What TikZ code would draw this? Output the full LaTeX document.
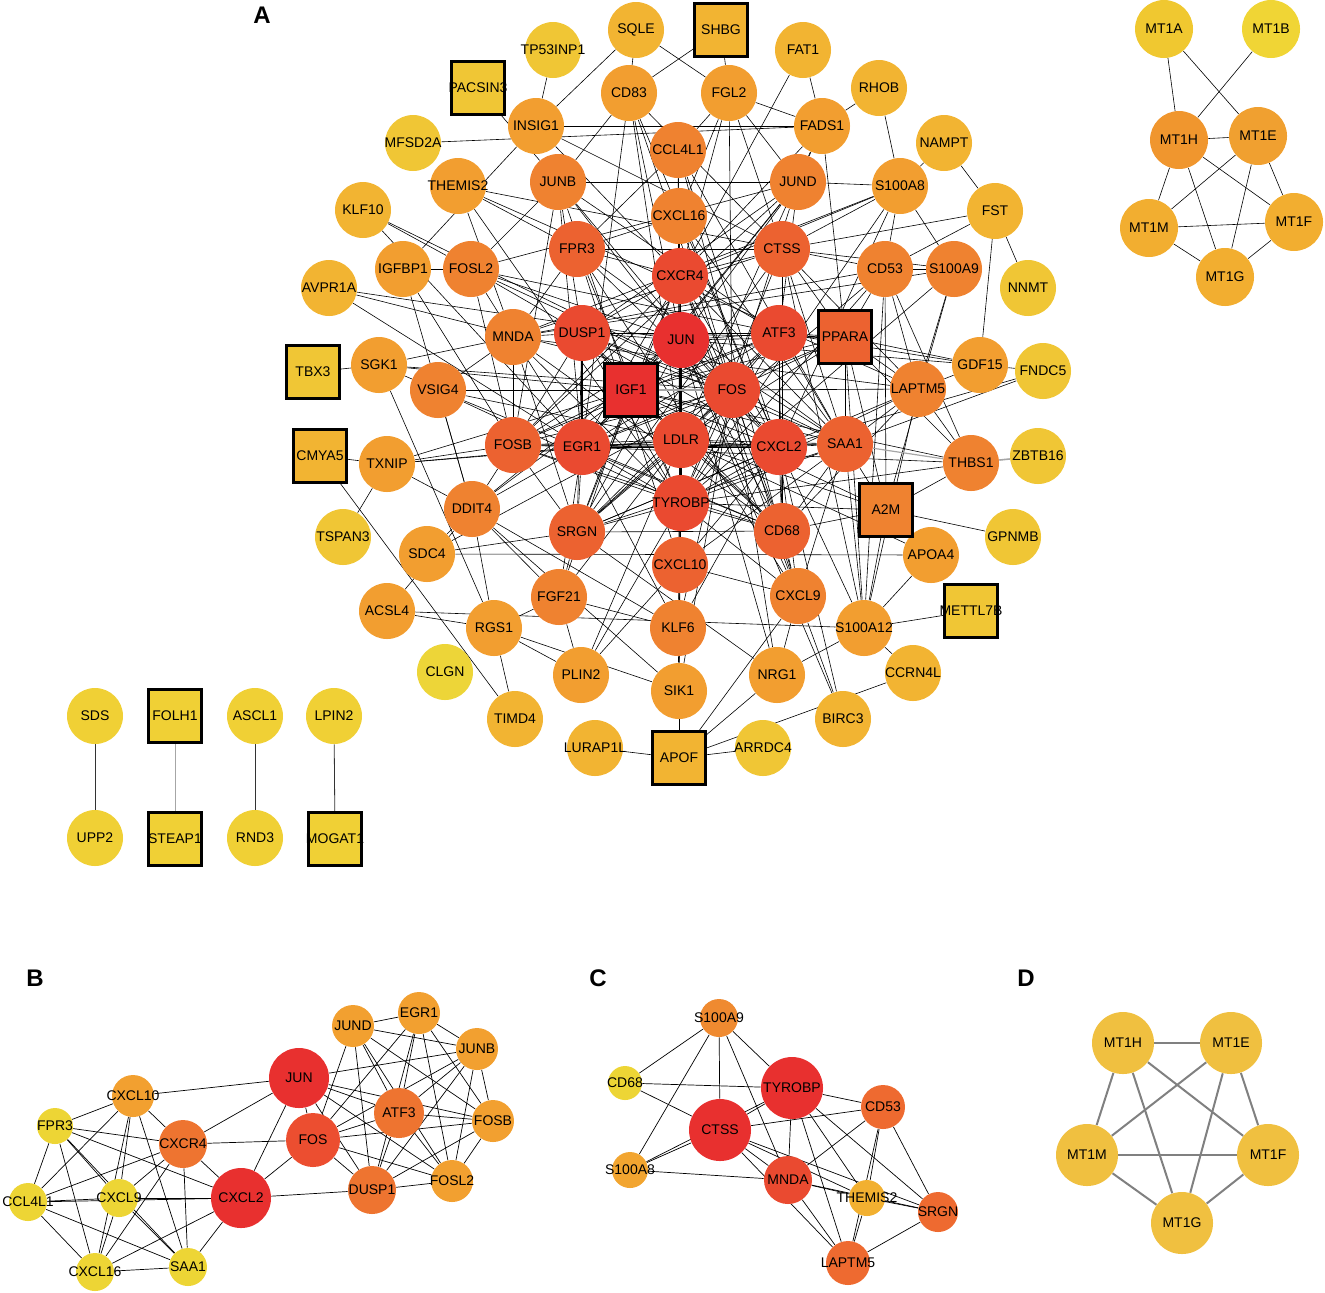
\documentclass[tikz,border=0pt]{standalone}
\usepackage{fontspec}
\setmainfont{Liberation Sans}
\usetikzlibrary{backgrounds}
\definecolor{c1}{HTML}{E8302F}
\definecolor{c2}{HTML}{EA4A30}
\definecolor{c3}{HTML}{EC6230}
\definecolor{c4}{HTML}{EF8230}
\definecolor{c5}{HTML}{F29E30}
\definecolor{c6}{HTML}{F2B432}
\definecolor{c7}{HTML}{F0C635}
\definecolor{c8}{HTML}{EDD538}
\definecolor{bFOS}{HTML}{EC4E30}
\definecolor{bOR}{HTML}{EE7430}
\definecolor{bLO}{HTML}{F2A030}
\definecolor{bYE}{HTML}{EDD535}
\definecolor{cOR}{HTML}{EE6A30}
\definecolor{cS9}{HTML}{EF8A30}
\definecolor{cS8}{HTML}{F2A530}
\definecolor{cTH}{HTML}{F2B030}
\definecolor{dMT}{HTML}{F0C040}
\definecolor{mA}{HTML}{F0C830}
\definecolor{mB}{HTML}{F0D535}
\definecolor{mH}{HTML}{F0962E}
\definecolor{mE}{HTML}{F0A030}
\definecolor{mM}{HTML}{F2AE30}
\definecolor{pY}{HTML}{F0D035}
\tikzset{
  lbl/.style={font=\fontsize{7}{8}\selectfont},
  nd/.style={lbl, circle, draw=none, minimum size=28pt, inner sep=0pt},
  sq/.style={lbl, rectangle, draw=black, line width=1.4pt, minimum size=26.2pt, inner sep=0pt},
  ea/.style={line width=0.3pt, black},
  eb/.style={line width=0.35pt, black},
  ed/.style={line width=1pt, gray},
  panel/.style={font=\bfseries\fontsize{12}{14}\selectfont}
}
\begin{document}
\begin{tikzpicture}[x=0.5pt,y=-0.5pt]
\useasboundingbox (0,0) rectangle (1325,1292);

% ---------- panel labels
\node[panel] (labA) at (262,15) {A};
\node[panel] (labB) at (35,978) {B};
\node[panel] (labC) at (598,978) {C};
\node[panel] (labD) at (1026,978) {D};

% ---------- panel A nodes
\foreach \n/\x/\y/\c in {SQLE/636/30/c6, TP53INP1/553/50/c7, FAT1/803/50/c6, CD83/629/93/c5, FGL2/729/93/c5,
  RHOB/879/88/c6, INSIG1/536/126/c5, FADS1/822/126/c5, MFSD2A/413/143/c7, NAMPT/944/143/c6,
  CCL4L1/678/150/c4, THEMIS2/458/186/c5, JUNB/558/182/c4, JUND/798/182/c4, S100A8/900/186/c5,
  KLF10/363/210/c6, CXCL16/679/216/c4, FST/995/211/c6, FPR3/577/249/c3, CTSS/782/249/c3,
  IGFBP1/403/269/c5, FOSL2/471/269/c4, CXCR4/680/276/c2, CD53/885/269/c4, S100A9/954/269/c4,
  AVPR1A/329/288/c6, NNMT/1028/288/c7, MNDA/513/337/c4, DUSP1/582/333/c2, JUN/681/340/c1,
  ATF3/779/333/c2, SGK1/379/365/c5, VSIG4/438/390/c4, FOS/732/390/c2, LAPTM5/918/389/c4,
  GDF15/980/365/c5, FNDC5/1043/371/c7, TXNIP/387/464/c5, FOSB/513/445/c3, EGR1/582/447/c2,
  LDLR/681/440/c2, CXCL2/779/447/c2, SAA1/845/444/c3, THBS1/971/463/c4, ZBTB16/1038/456/c7,
  DDIT4/472/509/c4, TYROBP/681/503/c2, TSPAN3/343/537/c7, SRGN/577/532/c3, CD68/782/531/c3,
  GPNMB/1013/537/c7, SDC4/427/554/c5, CXCL10/680/565/c3, APOA4/931/555/c5, ACSL4/387/611/c5,
  FGF21/559/597/c4, CXCL9/798/596/c4, RGS1/494/628/c5, KLF6/678/628/c4, S100A12/864/628/c5,
  CLGN/445/672/c8, PLIN2/581/675/c5, NRG1/777/675/c5, CCRN4L/913/673/c6, SIK1/679/691/c5,
  TIMD4/515/719/c6, BIRC3/843/719/c6, LURAP1L/595/748/c6, ARRDC4/763/748/c7}
  \node[nd, fill=\c] (a\n) at (\x,\y) {\makebox[0pt]{\n}};
\foreach \n/\x/\y/\c in {SHBG/721/30/c6, PACSIN3/478/88/c7, TBX3/313/372/c7, IGF1/631/390/c1,
  PPARA/845/337/c3, CMYA5/320/456/c6, A2M/886/510/c4, METTL7B/971/611/c7, APOF/679/758/c6}
  \node[sq, fill=\c] (a\n) at (\x,\y) {\makebox[0pt]{\n}};

% MT cluster in A
\foreach \n/\x/\y/\c in {MT1A/1164/29/mA, MT1B/1271/29/mB, MT1H/1179/140/mH, MT1E/1258/136/mE,
  MT1M/1149/228/mM, MT1F/1294/222/mM, MT1G/1225/277/mM}
  \node[nd, minimum size=29pt, fill=\c] (m\n) at (\x,\y) {\makebox[0pt]{\n}};

% isolated pairs
\foreach \n/\x/\y in {SDS/95/716, UPP2/95/838, ASCL1/255/716, RND3/255/838, LPIN2/334/716}
  \node[nd, fill=pY] (p\n) at (\x,\y) {\makebox[0pt]{\n}};
\foreach \n/\x/\y in {FOLH1/175/716, STEAP1/175/839, MOGAT1/335/839}
  \node[sq, fill=pY] (p\n) at (\x,\y) {\makebox[0pt]{\n}};

% ---------- panel B nodes
\foreach \n/\x/\y/\r/\c in {JUN/299/1078/30/c1, FOS/313/1140/27/bFOS, CXCL2/241/1198/30/c1,
  CXCR4/183/1144/24/bOR, ATF3/399/1113/25/bOR, DUSP1/372/1190/24/bOR, JUND/353/1026/21/bLO,
  EGR1/419/1013/21/bLO, JUNB/477/1049/21/bLO, FOSB/493/1121/21/bLO, FOSL2/452/1181/21/bLO,
  CXCL10/133/1096/21/bLO, FPR3/55/1126/18/bYE, CCL4L1/28/1202/19/bYE, CXCL9/119/1198/19/bYE,
  CXCL16/95/1272/19/bYE, SAA1/188/1267/19/bYE}
  \node[nd, minimum size=\r pt, fill=\c] (b\n) at (\x,\y) {\makebox[0pt]{\n}};

% ---------- panel C nodes
\foreach \n/\x/\y/\r/\c in {S100A9/719/1018/19/cS9, CD68/625/1083/17/bYE, TYROBP/792/1088/31/c1,
  CTSS/720/1130/31/c1, CD53/883/1107/22/cOR, S100A8/630/1170/18/cS8, MNDA/788/1180/24/c2,
  THEMIS2/867/1198/18/cTH, SRGN/938/1212/20/cOR, LAPTM5/848/1263/22/cOR}
  \node[nd, minimum size=\r pt, fill=\c] (c\n) at (\x,\y) {\makebox[0pt]{\n}};

% ---------- panel D nodes
\foreach \n/\x/\y in {MT1H/1123/1043, MT1E/1231/1043, MT1M/1087/1155, MT1F/1268/1155, MT1G/1182/1223}
  \node[nd, minimum size=31pt, fill=dMT] (d\n) at (\x,\y) {\makebox[0pt]{\n}};

% ================= edges =================
\begin{pgfonlayer}{background}
% hub clique of panel A
\foreach \u [count=\i] in {JUN,FOS,IGF1,LDLR,EGR1,DUSP1,ATF3,CXCL2,TYROBP,FOSB,SAA1,CXCR4,CD68,SRGN}
  \foreach \v [count=\j] in {JUN,FOS,IGF1,LDLR,EGR1,DUSP1,ATF3,CXCL2,TYROBP,FOSB,SAA1,CXCR4,CD68,SRGN}
    {\ifnum\j>\i \draw[ea] (a\u) -- (a\v);\fi}
% other edges of panel A
\foreach \u/\v in {SQLE/INSIG1, SQLE/CD83, SQLE/FGL2, SHBG/CD83, SHBG/FGL2, TP53INP1/INSIG1,
  PACSIN3/JUNB, INSIG1/FADS1, MFSD2A/FADS1, INSIG1/CXCR4, INSIG1/CTSS, CD83/JUNB, CD83/JUN,
  CD83/FOS, CD83/EGR1, CD83/CTSS, CD83/CXCL2, CD83/LDLR, FGL2/FADS1, FGL2/CTSS, FGL2/CCL4L1,
  FGL2/CXCL16, FGL2/CXCR4, FGL2/JUND, FGL2/FOS, FAT1/FADS1, FAT1/CXCR4, RHOB/FADS1, RHOB/S100A8,
  NAMPT/S100A8, NAMPT/FST, FST/NNMT, FST/GDF15, FST/CTSS, FST/CD53, FADS1/JUND, FADS1/PPARA,
  FADS1/CXCR4, FADS1/LDLR, JUNB/JUND, THEMIS2/CTSS, THEMIS2/TYROBP, THEMIS2/MNDA, THEMIS2/LAPTM5,
  THEMIS2/FPR3, KLF10/FOSL2, KLF10/FOS, KLF10/EGR1, IGFBP1/FOSL2, IGFBP1/INSIG1, IGFBP1/FOSB,
  IGFBP1/DDIT4, AVPR1A/FOS, AVPR1A/JUN, AVPR1A/EGR1, S100A8/S100A9, S100A8/CD53, S100A8/JUND,
  S100A8/CTSS, S100A8/CXCR4, S100A8/TYROBP, S100A8/MNDA, S100A8/CXCL2, CD53/S100A9, CD53/PPARA,
  CD53/LAPTM5, CD53/THBS1, CD53/CTSS, CD53/TYROBP, CD53/MNDA, CD53/SRGN, CD53/A2M, S100A9/LAPTM5,
  S100A9/A2M, S100A9/CTSS, S100A9/TYROBP, S100A9/MNDA, GDF15/FNDC5, GDF15/PPARA, GDF15/LAPTM5,
  GDF15/ATF3, GDF15/JUN, FNDC5/SAA1, FNDC5/CXCL2, THBS1/LAPTM5, THBS1/A2M, THBS1/PPARA,
  THBS1/IGF1, THBS1/EGR1, THBS1/TYROBP, A2M/GPNMB, A2M/SAA1, A2M/IGF1, A2M/TYROBP, A2M/CD68,
  A2M/LDLR, A2M/PPARA, A2M/S100A12, APOA4/S100A12, SDC4/APOA4, APOA4/LDLR, APOA4/A2M,
  ACSL4/S100A12, S100A12/METTL7B, ACSL4/RGS1, ACSL4/DDIT4, CMYA5/TXNIP, CMYA5/TIMD4, TBX3/SGK1,
  SGK1/VSIG4, SGK1/IGF1, SGK1/RGS1, SGK1/MNDA, SGK1/FOS, TXNIP/DDIT4, TXNIP/FOSB, TXNIP/EGR1,
  TXNIP/TSPAN3, TXNIP/IGF1, TXNIP/LDLR, VSIG4/DDIT4, VSIG4/MNDA, VSIG4/LDLR, VSIG4/TYROBP,
  VSIG4/CD68, VSIG4/FOS, SDC4/DDIT4, SDC4/SRGN, SDC4/FOS, RGS1/TIMD4, RGS1/PLIN2, RGS1/FGF21,
  RGS1/DDIT4, FGF21/SRGN, FGF21/KLF6, FGF21/IGF1, FGF21/EGR1, FGF21/DDIT4, FGF21/LDLR,
  PLIN2/CXCL10, PLIN2/FGF21, PLIN2/LDLR, PLIN2/TYROBP, KLF6/SIK1, KLF6/CXCL10, KLF6/JUN, KLF6/FOS,
  KLF6/EGR1, KLF6/DDIT4, KLF6/CXCL2, SIK1/APOF, SIK1/FOS, SIK1/JUN, SIK1/DDIT4, SIK1/RGS1,
  SIK1/CXCL10, LURAP1L/APOF, APOF/ARRDC4, APOF/CCRN4L, APOF/NRG1, APOF/CXCL9, NRG1/S100A12,
  NRG1/CXCL9, NRG1/FOS, NRG1/JUN, NRG1/SRGN, BIRC3/CXCL9, BIRC3/CXCL2, BIRC3/JUN, CCRN4L/S100A12,
  S100A12/PPARA, S100A12/CD53, S100A12/LAPTM5, S100A12/SAA1, S100A12/CTSS, S100A12/CXCL2,
  DDIT4/FOSB, DDIT4/EGR1, DDIT4/IGF1, DDIT4/JUN, MNDA/DUSP1, MNDA/TYROBP, MNDA/CTSS, MNDA/SRGN,
  MNDA/LAPTM5, MNDA/CD68, MNDA/FOSB, MNDA/FPR3, FOSL2/JUN, FOSL2/FOS, FOSL2/ATF3, FOSL2/JUNB,
  FOSL2/DUSP1, FOSL2/EGR1, FOSL2/FOSB, FOSL2/JUND, JUNB/JUN, JUNB/FOS, JUNB/ATF3, JUNB/EGR1,
  JUNB/DUSP1, JUNB/FOSB, JUNB/IGF1, JUND/JUN, JUND/FOS, JUND/ATF3, JUND/EGR1, JUND/DUSP1,
  JUND/FOSB, JUND/IGF1, FPR3/CXCR4, FPR3/CXCL2, FPR3/CXCL10, FPR3/CXCL9, FPR3/CCL4L1, FPR3/CXCL16,
  FPR3/SAA1, FPR3/TYROBP, FPR3/CTSS, CXCL16/CXCR4, CXCL16/CXCL10, CXCL16/CXCL9, CXCL16/CCL4L1,
  CXCL16/SAA1, CXCL16/CXCL2, CCL4L1/CXCR4, CCL4L1/CXCL10, CCL4L1/CXCL9, CCL4L1/CXCL2, CCL4L1/SAA1,
  CXCR4/CXCL10, CXCR4/CXCL9, CTSS/TYROBP, CTSS/CD68, CTSS/LAPTM5, CTSS/SRGN, CTSS/CXCR4, CTSS/SAA1,
  CTSS/PPARA, PPARA/JUN, PPARA/FOS, PPARA/IGF1, PPARA/LDLR, PPARA/ATF3, PPARA/SAA1, PPARA/LAPTM5,
  PPARA/DUSP1, PPARA/EGR1, LAPTM5/TYROBP, LAPTM5/CD68, LAPTM5/SRGN, LAPTM5/SAA1, LAPTM5/FOS,
  CXCL10/CXCL9, CXCL10/SAA1, CXCL10/CXCL2, CXCL10/JUN, CXCL10/TYROBP, CXCL10/LDLR, CXCL9/CXCL2,
  CXCL9/SAA1, CXCL9/TYROBP, CXCL9/JUN, CXCL9/CD68}
  \draw[ea] (a\u) -- (a\v);
\draw[line width=1pt, black] (aJUN) -- (aLDLR);
\draw[line width=1pt, black] (aLDLR) -- (aTYROBP);
\draw[line width=1pt, black] (aDUSP1) -- (aEGR1);
\draw[line width=1pt, gray!70] (aIGF1) -- (aFOS);
\draw[line width=0.8pt, gray!70] (aTHBS1) -- (aZBTB16);
\draw[line width=0.6pt, gray!70] (aTHBS1) -- (aSAA1);

% MT cluster edges
\foreach \u/\v in {MT1A/MT1H, MT1A/MT1E, MT1B/MT1H, MT1H/MT1E, MT1H/MT1M, MT1H/MT1G, MT1H/MT1F,
  MT1E/MT1M, MT1E/MT1G, MT1E/MT1F, MT1M/MT1F, MT1M/MT1G, MT1F/MT1G}
  \draw[ea] (m\u) -- (m\v);

% pairs
\draw[line width=0.4pt, black!80] (pSDS) -- (pUPP2);
\draw[line width=0.5pt, gray!70] (pFOLH1) -- (pSTEAP1);
\draw[line width=0.4pt, black!80] (pASCL1) -- (pRND3);
\draw[line width=0.4pt, black!80] (pLPIN2) -- (pMOGAT1);

% panel B edges
\foreach \u/\v in {CXCL10/FPR3, CXCL10/CXCR4, CXCL10/CXCL9, CXCL10/CCL4L1, CXCL10/CXCL16,
  CXCL10/SAA1, CXCL10/JUN, FPR3/CXCR4, FPR3/CCL4L1, FPR3/CXCL9, FPR3/CXCL16, FPR3/SAA1, FPR3/CXCL2,
  CCL4L1/CXCL9, CCL4L1/CXCL2, CCL4L1/CXCL16, CCL4L1/SAA1, CCL4L1/CXCR4, CXCL9/CXCL2, CXCL9/CXCL16,
  CXCL9/SAA1, CXCL9/CXCR4, CXCL16/SAA1, CXCL16/CXCR4, CXCL16/CXCL2, SAA1/CXCL2, SAA1/CXCR4,
  CXCR4/JUN, CXCR4/FOS, CXCR4/CXCL2, CXCL2/JUN, CXCL2/FOS, CXCL2/DUSP1,
  JUN/FOS, JUN/ATF3, JUN/DUSP1, JUN/JUNB, JUN/FOSB, JUN/FOSL2, FOS/ATF3, FOS/JUND, FOS/EGR1,
  FOS/JUNB, FOS/FOSB, FOS/FOSL2, FOS/DUSP1, ATF3/JUND, ATF3/EGR1, ATF3/JUNB, ATF3/FOSB, ATF3/FOSL2,
  ATF3/DUSP1, DUSP1/JUND, DUSP1/EGR1, DUSP1/JUNB, DUSP1/FOSB, DUSP1/FOSL2, JUND/EGR1, JUND/JUNB,
  JUND/FOSB, JUND/FOSL2, EGR1/JUNB, EGR1/FOSB, EGR1/FOSL2, JUNB/FOSB, JUNB/FOSL2, FOSB/FOSL2}
  \draw[eb] (b\u) -- (b\v);

% panel C edges
\foreach \u/\v in {S100A9/CD68, S100A9/CTSS, S100A9/TYROBP, S100A9/S100A8, S100A9/MNDA,
  CD68/TYROBP, CD68/CTSS, CTSS/TYROBP, CTSS/CD53, CTSS/S100A8, CTSS/MNDA, CTSS/THEMIS2, CTSS/SRGN,
  CTSS/LAPTM5, S100A8/MNDA, S100A8/TYROBP, TYROBP/CD53, TYROBP/MNDA, TYROBP/THEMIS2, TYROBP/SRGN,
  TYROBP/LAPTM5, MNDA/CD53, MNDA/LAPTM5, MNDA/SRGN, MNDA/THEMIS2, CD53/THEMIS2, CD53/LAPTM5,
  CD53/SRGN, THEMIS2/SRGN, THEMIS2/LAPTM5, SRGN/LAPTM5}
  \draw[eb] (c\u) -- (c\v);

% panel D edges
\foreach \u [count=\i] in {MT1H,MT1E,MT1M,MT1F,MT1G}
  \foreach \v [count=\j] in {MT1H,MT1E,MT1M,MT1F,MT1G}
    {\ifnum\j>\i \draw[ed] (d\u) -- (d\v);\fi}
\end{pgfonlayer}
\end{tikzpicture}
\end{document}
